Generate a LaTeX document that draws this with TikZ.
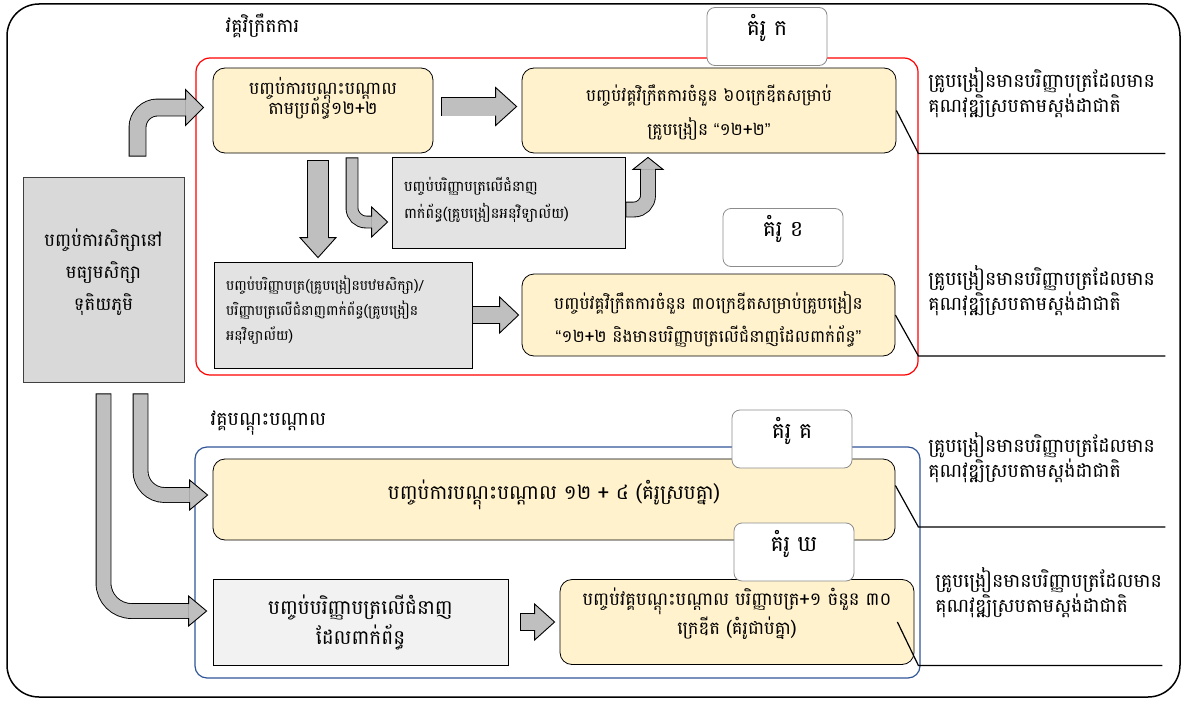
\documentclass[tikz,border=0pt]{standalone}
\usepackage{fontspec}
\setmainfont[Script=Khmer]{Battambang}
\newfontfamily\quotefont{Liberation Sans}

\definecolor{cream}{HTML}{FFF2CC}
\definecolor{arrowgray}{HTML}{BFBFBF}
\definecolor{leftgray}{HTML}{D9D9D9}
\definecolor{midgray}{HTML}{E3E3E3}
\definecolor{palegray}{HTML}{F2F2F2}
\definecolor{frameblue}{HTML}{2F5597}

% Block arrow head: tip, angle, half shaft, half head, length
\newcommand{\blockhead}[5]{
	\begin{scope}[shift = {#1}, rotate = #2]
		\fill [arrowgray] (0, 0) -- (-#5, -#4) -- (-#5, #4) -- cycle;
		\draw [line width = 0.9pt, line join = miter] (-#5, -#3) -- (-#5, -#4) -- (0, 0) -- (-#5, #4) -- (-#5, #3);
	\end{scope}
}

% Quotes are not in the Khmer font
\newcommand{\oq}{{\quotefont “}}
\newcommand{\cq}{{\quotefont ”}}

\tikzset{
	shaft/.style = {line width = #1, arrowgray, shorten <= 0.9pt,
		preaction = {draw = black, line width = #1 + 1.8pt, shorten <= 0pt}}
}

\begin{document}
\begin{tikzpicture}[x = 1pt, y = -1pt, line width = 0.8pt,
	box/.style = {draw, inner xsep = 0pt, inner ysep = 0pt, align = center},
	cream box/.style = {box, fill = cream, rounded corners = 12pt},
	tag/.style = {draw = black!45, fill = white, rounded corners = 8pt, minimum width = 120pt,
		text height = 28pt, text depth = 30pt, inner ysep = 0pt, font = \fontsize{22}{26}\selectfont},
	note/.style = {anchor = north west, text width = 250pt, align = left, inner sep = 0pt,
		text height = 16pt, font = \fontsize{19}{23}\selectfont}]

	\useasboundingbox (0, 0) rectangle (1189, 701);

	% Frames

	\draw [line width = 1.5pt, rounded corners = 32pt] (7, 4) rectangle (1180, 697);
	\draw [red, line width = 1.2pt, rounded corners = 14pt] (196, 58) rectangle (918, 375);
	\draw [frameblue, line width = 1.2pt, rounded corners = 12pt] (195, 447) rectangle (920, 678);

	\node [anchor = base west, font = \fontsize{19}{22}\selectfont] (titleA) at (222, 33) {វគ្គវិក្រឹតការ};
	\node [anchor = base west, font = \fontsize{19}{22}\selectfont] (titleB) at (207, 425) {វគ្គបណ្តុះបណ្តាល};

	% Boxes

	\node [box, fill = leftgray, draw = black!75, text width = 161pt, text height = 69pt, text depth = 136pt,
		font = \fontsize{18}{32}\selectfont] (school) at (103.5, 279.5) {បញ្ចប់ការសិក្សានៅ\\មធ្យមសិក្សា\\ទុតិយភូមិ};

	\node [cream box, text width = 220pt, text height = 27pt, text depth = 58pt,
		font = \fontsize{17.5}{20}\selectfont] (A1) at (323, 110.5) {បញ្ចប់ការបណ្តុះបណ្តាល\\[-8pt]តាមប្រព័ន្ធ១២+២};
	\node [cream box, text width = 374pt, text height = 34pt, text depth = 51pt,
		font = \fontsize{17}{34}\selectfont] (A2) at (709, 110.5) {បញ្ចប់វគ្គវិក្រឹតការចំនួន ៦០ក្រេឌីតសម្រាប់\\គ្រូបង្រៀន \oq១២+២\cq};
	\node [box, fill = midgray, text width = 209pt, inner xsep = 12pt, align = left, text height = 34pt, text depth = 57pt,
		font = \fontsize{14.5}{27}\selectfont] (B1) at (508.5, 202.5) {បញ្ចប់បរិញ្ញាបត្រលើជំនាញ\\ពាក់ព័ន្ធ(គ្រូបង្រៀនអនុវិទ្យាល័យ)};
	\node [box, fill = midgray, text width = 234pt, inner xsep = 12pt, align = left, text height = 28pt, text depth = 78pt,
		font = \fontsize{14}{25}\selectfont] (B2g) at (343, 315) {បញ្ចប់បរិញ្ញាបត្រ(គ្រូបង្រៀនបឋមសិក្សា)/\\បរិញ្ញាបត្រលើជំនាញពាក់ព័ន្ធ(គ្រូបង្រៀន\\អនុវិទ្យាល័យ)};
	\node [cream box, text width = 373pt, text height = 35pt, text depth = 47pt,
		font = \fontsize{17}{33}\selectfont] (B2y) at (708.5, 315) {បញ្ចប់វគ្គវិក្រឹតការចំនួន ៣០ក្រេឌីតសម្រាប់គ្រូបង្រៀន\\\oq១២+២ និងមានបរិញ្ញាបត្រលើជំនាញដែលពាក់ព័ន្ធ\cq};

	\node [cream box, text width = 682pt, text height = 40pt, text depth = 41pt,
		font = \fontsize{20}{22}\selectfont] (C1) at (554, 499.5) {បញ្ចប់ការបណ្តុះបណ្តាល ១២ + ៤ (គំរូស្របគ្នា)};
	\node [box, fill = palegray, text width = 295pt, text height = 35pt, text depth = 51pt,
		font = \fontsize{20}{30}\selectfont] (D1) at (360.5, 622) {បញ្ចប់បរិញ្ញាបត្រលើជំនាញ\\ដែលពាក់ព័ន្ធ};
	\node [cream box, text width = 354pt, text height = 26pt, text depth = 59pt,
		font = \fontsize{18}{29}\selectfont] (D2) at (737, 622) {បញ្ចប់វគ្គបណ្តុះបណ្តាល បរិញ្ញាបត្រ+១ ចំនួន ៣០\\ក្រេឌីត (គំរូជាប់គ្នា)};

	% Block arrows

	\draw [shaft = 16pt, rounded corners = 20pt] ([xshift = 34pt, yshift = 20pt] school.north) |- ([xshift = -27pt, yshift = 3pt] A1.west);
	\blockhead{([xshift = -9pt, yshift = 3pt] A1.west)}{0}{8}{18}{18}

	\draw [shaft = 18pt] ([xshift = 8pt, yshift = 4pt] A1.east) -- ([xshift = -26pt, yshift = 4pt] A2.west);
	\blockhead{([xshift = -5pt, yshift = 4pt] A2.west)}{0}{9}{19}{21}

	\draw [shaft = 20pt] ([xshift = -5pt, yshift = -7pt] A1.south) -- ([xshift = -25pt, yshift = 24pt] B2g.north);
	\blockhead{([xshift = -25pt, yshift = 4pt] B2g.north)}{-90}{10}{18}{20}

	\draw [shaft = 11pt, rounded corners = 14pt] ([xshift = 29pt, yshift = -4pt] A1.south) |- ([xshift = -20pt, yshift = -19.5pt] B1.west);
	\blockhead{([xshift = -4pt, yshift = -19.5pt] B1.west)}{0}{5.5}{15}{16}

	\draw [shaft = 14pt, rounded corners = 14pt] ([yshift = -7pt] B1.east) -| ([xshift = -61pt, yshift = -16pt] A2.south);
	\blockhead{([xshift = -61pt, yshift = -4pt] A2.south)}{90}{7}{15}{12}

	\draw [shaft = 16pt] (B2g.east) -- ([xshift = -22pt] B2y.west);
	\blockhead{([xshift = -3pt] B2y.west)}{0}{8}{18}{19}

	\draw [shaft = 14pt, rounded corners = 24pt] ([xshift = 37pt, yshift = -11pt] school.south) |- ([xshift = -23pt, yshift = 4.5pt] C1.west);
	\blockhead{([xshift = -5pt, yshift = 4.5pt] C1.west)}{0}{7}{15}{18}

	\draw [shaft = 14pt, rounded corners = 28pt] ([yshift = -11pt] school.south) |- ([xshift = -24pt, yshift = 11pt] D1.west);
	\blockhead{([xshift = -6pt, yshift = 11pt] D1.west)}{0}{7}{15}{18}

	\draw [shaft = 16pt] ([xshift = 12pt] D1.east) -- ([xshift = -25pt] D2.west);
	\blockhead{([xshift = -5pt] D2.west)}{0}{8}{18}{20}

	% Model tags

	\node [tag] (tagA) at (767, 36.5) {គំរូ ក};
	\node [tag] (tagB) at (783, 237.5) {គំរូ ខ};
	\node [tag] (tagC) at (792, 439) {គំរូ គ};
	\node [tag] (tagD) at (794, 552) {គំរូ ឃ};

	% Outcomes

	\draw [line width = 1.2pt] (A2.east) -- ++(22, 43) -- ++(247, 0);
	\draw [line width = 1.2pt] (B2y.east) -- ++(23, 41) -- ++(247, 0);
	\draw [line width = 1.2pt] ([yshift = 14pt] C1.east) -- ++(23, 41.5) -- ++(247, 0);
	\draw [line width = 1.2pt] ([xshift = -17pt] D2.east) -- ++(21, 43.5) -- ++(244, 0);

	\node [note] (outA) at (928, 71) {គ្រូបង្រៀនមានបរិញ្ញាបត្រដែលមាន\\គុណវុឌ្ឍិស្របតាមស្តង់ដាជាតិ};
	\node [note] (outB) at (928, 269) {គ្រូបង្រៀនមានបរិញ្ញាបត្រដែលមាន\\គុណវុឌ្ឍិស្របតាមស្តង់ដាជាតិ};
	\node [note] (outC) at (928, 436) {គ្រូបង្រៀនមានបរិញ្ញាបត្រដែលមាន\\គុណវុឌ្ឍិស្របតាមស្តង់ដាជាតិ};
	\node [note] (outD) at (935, 571) {គ្រូបង្រៀនមានបរិញ្ញាបត្រដែលមាន\\គុណវុឌ្ឍិស្របតាមស្តង់ដាជាតិ};

\end{tikzpicture}
\end{document}
